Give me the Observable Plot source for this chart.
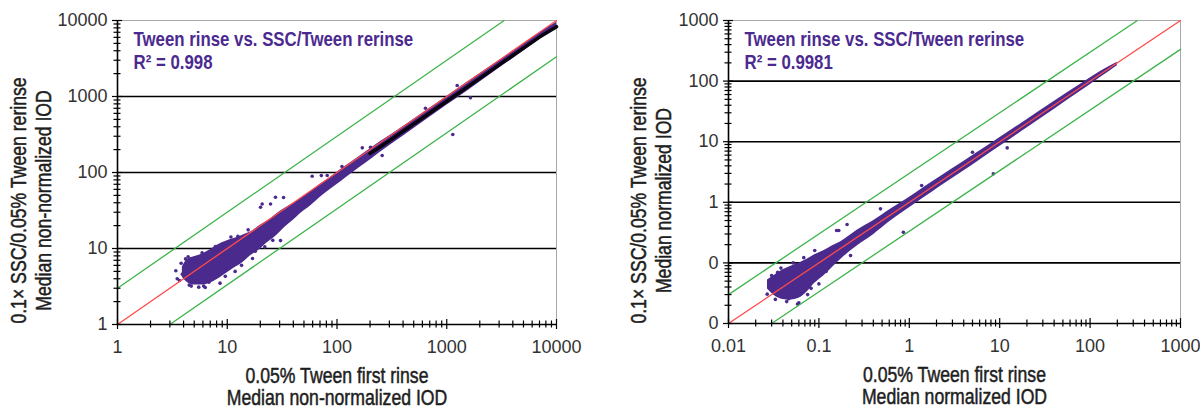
<!DOCTYPE html>
<html><head><meta charset="utf-8">
<script src="https://cdn.jsdelivr.net/npm/d3@7"></script>
<script src="https://cdn.jsdelivr.net/npm/@observablehq/plot@0.6"></script>
<style>
body{margin:0;background:#fff;}
#wrap{display:flex;width:1200px;height:408px;overflow:hidden;}
</style></head><body><div id="wrap"></div>
<script>
const FONT = "'Liberation Sans', Arial, sans-serif";
const NARROW = 0.82; // horizontal compression to mimic a condensed face
const PURPLE = "#4a2a8c";

// ---------- Left panel data ----------
const leftTitle = "Tween rinse vs. SSC/Tween rerinse";
const leftR2 = "R² = 0.998";
const leftYTitle = ["0.1× SSC/0.05% Tween rerinse", "Median non-normalized IOD"];
const leftXTitle = ["0.05% Tween first rinse", "Median non-normalized IOD"];
const leftDomain = [1, 10000];
const leftTickValues = [1, 10, 100, 1000, 10000];
const leftTickLabels = ["1", "10", "100", "1000", "10000"];
const leftBandX  = [3.9, 4.3, 5, 5.7, 7, 8.1, 10, 11.5, 14, 16.3, 20, 23, 28, 33, 40, 46, 57, 70, 90, 110, 140, 180, 250, 400, 700, 1000, 1500, 2500, 4000, 6000, 8000, 10000];
const leftBandLo = [4.2, 3.6, 3.3, 3.3, 3.5, 3.9, 4.8, 5.5, 6.6, 8.0, 9.8, 11.8, 14.7, 18.6, 23.5, 28.5, 36, 47, 62, 77, 100, 130, 186, 300, 535, 765, 1150, 1950, 3150, 4800, 6400, 7700];
const leftBandHi = [5.7, 7.1, 7.8, 8.3, 9.6, 11.0, 12.6, 13.5, 15.1, 16.5, 20.2, 22.8, 28.3, 33.3, 39, 44.5, 55.5, 69.5, 89.5, 111.5, 142, 183, 255, 400, 700, 1000, 1500, 2480, 3950, 5900, 7800, 9400];
const leftCoreX = [200, 300, 500, 1000, 2000, 4000, 7000, 10000];
const leftCoreY = [178, 262, 435, 865, 1730, 3460, 6050, 8300];
const leftPtsX = [3.4, 3.5, 3.67, 4.17, 4.93, 4.0, 4.5, 5.5, 6.3, 6.8, 5.2, 7.5, 9, 12.5, 20.1, 20.8, 24.8, 27.5, 32.6, 30.6, 59.4, 72, 81.4, 111, 170, 202, 258, 640, 1245, 1644, 1135, 3.8, 4.4, 5.9, 7.8, 8.6, 6.1, 9.6, 10.8, 13.5, 15.5, 18, 4.7, 3.9, 11.8, 17, 22, 26];
const leftPtsY = [5.1, 4.0, 3.8, 7.3, 7.4, 4.6, 3.3, 3.1, 3.07, 3.6, 6.9, 9.6, 11.4, 14.5, 34.9, 38.5, 38.5, 47.3, 46.9, 12.7, 89.4, 91, 91.3, 120, 211, 215, 167, 701, 1396, 962, 316, 6.4, 7.8, 8.8, 10.6, 3.5, 3.2, 4.3, 14.2, 6.0, 17.6, 9.2, 3.2, 4.6, 5.0, 7.4, 10.5, 12.8];

// ---------- Right panel data ----------
const rightTitle = "Tween rinse vs. SSC/Tween rerinse";
const rightR2 = "R² = 0.9981";
const rightYTitle = ["0.1× SSC/0.05% Tween rerinse", "Median normalized IOD"];
const rightXTitle = ["0.05% Tween first rinse", "Median normalized IOD"];
const rightDomain = [0.01, 1000];
const rightXTickValues = [0.01, 0.1, 1, 10, 100, 1000];
const rightXTickLabels = ["0.01", "0.1", "1", "10", "100", "1000"];
const rightYTickLabels = ["0", "0", "1", "10", "100", "1000"];
const rightBandX  = [0.027, 0.032, 0.04, 0.049, 0.06, 0.074, 0.09, 0.113, 0.14, 0.173, 0.265, 0.405, 0.62, 0.95, 1.45, 2.2, 3.7, 6, 10, 20, 40, 80, 130, 200];
const rightBandLo = [0.037, 0.029, 0.025, 0.0245, 0.026, 0.033, 0.046, 0.061, 0.083, 0.113, 0.19, 0.295, 0.49, 0.77, 1.19, 1.83, 3.05, 4.95, 8.3, 16.8, 34, 69, 115, 180];
const rightBandHi = [0.052, 0.062, 0.077, 0.088, 0.099, 0.115, 0.136, 0.158, 0.19, 0.222, 0.345, 0.5, 0.77, 1.14, 1.76, 2.64, 4.35, 7.0, 11.6, 23, 46, 90, 144, 205];
const rightPtsX = [0.0268, 0.030, 0.0464, 0.028, 0.035, 0.033, 0.06, 0.075, 0.166, 0.157, 0.205, 0.224, 0.48, 0.86, 1.37, 5.0, 8.5, 12.1, 0.09, 0.1, 0.029, 0.038, 0.052, 0.068, 0.082, 0.12, 0.058, 0.044, 0.031];
const rightPtsY = [0.0305, 0.062, 0.0256, 0.05, 0.07, 0.025, 0.022, 0.03, 0.343, 0.343, 0.43, 0.132, 0.78, 0.32, 1.89, 6.7, 2.95, 7.9, 0.16, 0.045, 0.041, 0.082, 0.1, 0.122, 0.038, 0.072, 0.021, 0.023, 0.055];

const GUIDE_FACTOR = 3;

function panel(c) {
  const W = 600, H = 408;
  const pw = W - c.ml - c.mr, ph = H - c.mt - c.mb;
  const band = c.bandX.map((x, i) => ({x, lo: c.bandLo[i], hi: c.bandHi[i]}));
  const pts = c.ptsX.map((x, i) => ({x, y: c.ptsY[i]}));
  const core = c.coreX ? c.coreX.map((x, i) => ({x, y: c.coreY[i]})) : [];
  const [d0, d1] = c.domain;
  const diag = [{x: d0, y: d0}, {x: d1, y: d1}];
  const upper = [{x: d0, y: d0 * GUIDE_FACTOR}, {x: d1 / GUIDE_FACTOR, y: d1}];
  const lower = [{x: d0 * GUIDE_FACTOR, y: d0}, {x: d1, y: d1 / GUIDE_FACTOR}];
  const all = d3.scaleLog().domain(c.domain).ticks();
  const major = c.xTicks;
  const minor = all.filter(v => !major.some(m => Math.abs(m - v) / m < 1e-9));
  const yT = major.map((v, i) => ({v, t: c.yLabels[i]}));
  const xT = major.map((v, i) => ({v, t: c.xLabels[i]}));
  const midY = (c.mt + (H - c.mb)) / 2;
  const TS = 21.5;
  const tStyle = {fontSize: TS, fill: "#1e1e1e", stroke: "#1e1e1e", strokeWidth: 0.5, textAnchor: "middle", lineAnchor: "bottom"};
  return Plot.plot({
    width: W, height: H,
    marginLeft: c.ml, marginRight: c.mr, marginTop: c.mt, marginBottom: c.mb,
    x: {type: "log", domain: c.domain, axis: null},
    y: {type: "log", domain: c.domain, axis: null},
    style: {fontFamily: FONT, background: "white", overflow: "visible"},
    marks: [
      Plot.frame({stroke: "#a8a8a8", strokeWidth: 1}),
      Plot.ruleY(major.slice(1, -1), {stroke: "#000", strokeWidth: 1.6}),
      Plot.areaY(band, {x: "x", y1: "lo", y2: "hi", fill: PURPLE, curve: "monotone-x"}),
      Plot.dot(pts, {x: "x", y: "y", r: 1.8, fill: PURPLE}),
      Plot.line(core, {x: "x", y: "y", stroke: "#0a0410", strokeWidth: 3.5}),
      Plot.line(diag, {x: "x", y: "y", stroke: "#ff4a4a", strokeWidth: 1.3}),
      Plot.line(upper, {x: "x", y: "y", stroke: "#3cb44b", strokeWidth: 1.3}),
      Plot.line(lower, {x: "x", y: "y", stroke: "#3cb44b", strokeWidth: 1.3}),
      Plot.ruleX([d0], {stroke: "#000", strokeWidth: 1.6}),
      Plot.ruleY([d0], {stroke: "#000", strokeWidth: 1.6}),
      Plot.tickY(major, {y: d => d, insetRight: pw - 10, dx: -5, stroke: "#000", strokeWidth: 1.2}),
      Plot.tickY(minor, {y: d => d, insetRight: pw - 7, dx: -3.5, stroke: "#000", strokeWidth: 1.2}),
      Plot.tickX(major, {x: d => d, insetTop: ph - 10, dy: 5, stroke: "#000", strokeWidth: 1.2}),
      Plot.tickX(minor, {x: d => d, insetTop: ph - 7, dy: 3.5, stroke: "#000", strokeWidth: 1.2}),
      Plot.text(yT, {y: "v", text: "t", frameAnchor: "left", dx: -10, textAnchor: "end", lineAnchor: "middle", fontSize: 18, fill: "#333"}),
      Plot.text(xT, {x: "v", text: "t", frameAnchor: "bottom", dy: 28, lineAnchor: "bottom", fontSize: 18, fill: "#333"}),
      Plot.text([c.title], {frameAnchor: "top-left", dx: 16, dy: 25, lineAnchor: "bottom", textAnchor: "start", fontSize: 20.5, fontWeight: "bold", fill: "#4b2a90"}),
      Plot.text([c.r2], {frameAnchor: "top-left", dx: 16, dy: 48, lineAnchor: "bottom", textAnchor: "start", fontSize: 20.5, fontWeight: "bold", fill: "#4b2a90"}),
      Plot.text([c.xTitle[0]], {...tStyle, frameAnchor: "bottom", dy: 58}),
      Plot.text([c.xTitle[1]], {...tStyle, frameAnchor: "bottom", dy: 80}),
      Plot.text([c.yTitle[0]], {...tStyle, frameAnchor: "left", dx: c.yt1, dy: 200 - midY, rotate: -90}),
      Plot.text([c.yTitle[1]], {...tStyle, frameAnchor: "left", dx: c.yt2, dy: 200 - midY, rotate: -90})
    ]
  });
}

const wrap = document.getElementById("wrap");
const cfgs = [
  {
    ml: 117, mr: 44, mt: 20, mb: 84,
    domain: leftDomain, xTicks: leftTickValues, xLabels: leftTickLabels, yLabels: leftTickLabels,
    bandX: leftBandX, bandLo: leftBandLo, bandHi: leftBandHi,
    coreX: leftCoreX, coreY: leftCoreY,
    ptsX: leftPtsX, ptsY: leftPtsY,
    title: leftTitle, r2: leftR2, xTitle: leftXTitle, yTitle: leftYTitle,
    yt1: 25 - 117, yt2: 50 - 117
  },
  {
    ml: 128, mr: 20, mt: 20, mb: 85,
    domain: rightDomain, xTicks: rightXTickValues, xLabels: rightXTickLabels, yLabels: rightYTickLabels,
    bandX: rightBandX, bandLo: rightBandLo, bandHi: rightBandHi,
    ptsX: rightPtsX, ptsY: rightPtsY,
    title: rightTitle, r2: rightR2, xTitle: rightXTitle, yTitle: rightYTitle,
    yt1: 45 - 128, yt2: 70 - 128
  }
];
for (const c of cfgs) {
  const svg = panel(c);
  wrap.append(svg);
  const condensed = new Set([c.title, c.r2, ...c.xTitle, ...c.yTitle]);
  svg.querySelectorAll("text").forEach(t => {
    if (condensed.has(t.textContent)) {
      const L = t.getComputedTextLength();
      t.setAttribute("textLength", (L * NARROW).toFixed(1));
      t.setAttribute("lengthAdjust", "spacingAndGlyphs");
    }
  });
}
</script></body></html>
